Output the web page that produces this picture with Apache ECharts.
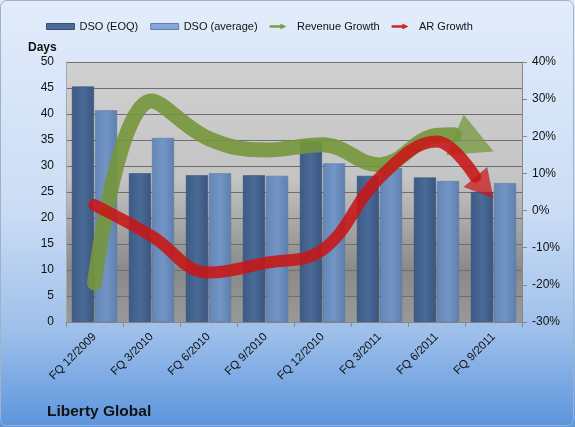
<!DOCTYPE html>
<html>
<head>
<meta charset="utf-8">
<script src="https://cdn.jsdelivr.net/npm/echarts@6/dist/echarts.min.js"></script>
<style>
  html, body { margin: 0; padding: 0; }
  #chart { width: 575px; height: 427px; }
</style>
</head>
<body>
<div id="chart"></div>
<script>
// quarters
var categories = ['FQ 12/2009', 'FQ 3/2010', 'FQ 6/2010', 'FQ 9/2010', 'FQ 12/2010', 'FQ 3/2011', 'FQ 6/2011', 'FQ 9/2011'];
var dsoEoq = [45.3, 28.6, 28.2, 28.2, 34.7, 28.1, 27.8, 25.0];
var dsoAvg = [40.7, 35.4, 28.6, 28.1, 30.5, 29.6, 27.1, 26.7];
var revenueGrowth = [-19.5, 29.5, 19.4, 16.3, 17.7, 12.3, 20.2, 15.9];
var arGrowth = [1.5, -6.8, -16.7, -14.1, -10.6, 8.8, 18.6, 3.3];
// where the shaft of each arrow stops (category index, %), the head runs on to the last point
var revenueArrowBase = [6.31, 20.4];
var arArrowBase = [6.68, 9.1];
var leftTicks = [0, 50, 5];
var rightTicks = [-30, 40, 10];

var fontFamily = '"Liberation Sans", Arial, sans-serif';
var triangle = 'path://M10,0 L20,30 L0,30 Z';
var arrowIcon = 'path://M0,3 L18,3 L18,0 L28,5 L18,10 L18,7 L0,7 Z';

// line points up to the arrow shaft end
function shaftData (values, base) {
  var pts = values.slice(0, values.length - 1).map(function (v, i) { return [i, v]; });
  pts.push(base);
  return pts;
}

// arrow head sitting with its tip on the last point
function headData (values, angle, len, width) {
  var rad = angle * Math.PI / 180;
  return [{
    value: [values.length - 1, values[values.length - 1]],
    symbol: triangle,
    symbolSize: [width, len],
    symbolRotate: -90 - angle,
    symbolOffset: [-Math.cos(rad) * len / 2, -Math.sin(rad) * len / 2]
  }];
}

var chart = echarts.init(document.getElementById('chart'));
var option = {
  backgroundColor: new echarts.graphic.LinearGradient(0, 0, 0, 1, [
    { offset: 0, color: '#e2ecfb' },
    { offset: 0.5, color: '#cadcf5' },
    { offset: 0.78, color: '#9dbfea' },
    { offset: 1, color: '#5b95dd' }
  ]),
  textStyle: { fontFamily: fontFamily },
  animation: false,
  graphic: [{
    type: 'rect',
    shape: { x: 0.5, y: 0.5, width: 573, height: 425, r: 6 },
    style: { fill: 'none', stroke: '#9fb2c8', lineWidth: 1 },
    silent: true
  }],
  legend: {
    top: 16,
    left: 41,
    itemGap: 12,
    itemWidth: 28,
    itemHeight: 6,
    textStyle: { fontSize: 11, color: '#111' },
    data: [
      { name: 'DSO (EOQ)', icon: 'rect', itemStyle: { color: '#4d6c98', borderColor: '#34507a', borderWidth: 1 } },
      { name: 'DSO (average)', icon: 'rect', itemStyle: { color: '#86a8d8', borderColor: '#5f80ae', borderWidth: 1 } },
      { name: 'Revenue Growth', icon: arrowIcon, itemStyle: { color: '#7d9a48', borderWidth: 0 } },
      { name: 'AR Growth', icon: arrowIcon, itemStyle: { color: '#c8282a', borderWidth: 0 } }
    ]
  },
  title: [
    { text: 'Days', left: 23, top: 37, textStyle: { fontSize: 12, fontWeight: 'bold', color: '#111', fontFamily: fontFamily } },
    { text: 'Liberty Global', left: 42, top: 399, textStyle: { fontSize: 15.5, fontWeight: 'bold', color: '#111', fontFamily: fontFamily } }
  ],
  grid: {
    left: 66,
    right: 53,
    top: 62,
    bottom: 105,
    show: true,
    borderWidth: 0,
    backgroundColor: new echarts.graphic.LinearGradient(0, 0, 0, 1, [
      { offset: 0, color: '#d0d0d0' },
      { offset: 0.45, color: '#c4c4c4' },
      { offset: 0.8, color: '#8a8a8a' },
      { offset: 1, color: '#999999' }
    ])
  },
  xAxis: [
    {
      type: 'category',
      data: categories,
      axisLine: { show: true, lineStyle: { color: '#888' } },
      axisTick: { show: true, length: 5, lineStyle: { color: '#888' } },
      axisLabel: { rotate: 45, fontSize: 11.5, color: '#111', margin: 13 }
    },
    {
      type: 'value',
      min: -0.5,
      max: categories.length - 0.5,
      show: false
    }
  ],
  yAxis: [
    {
      type: 'value',
      min: leftTicks[0],
      max: leftTicks[1],
      interval: leftTicks[2],
      axisLine: { show: true, onZero: false, lineStyle: { color: '#a8a8a8' } },
      axisTick: { show: false },
      axisLabel: { fontSize: 12, color: '#111', margin: 12 },
      splitLine: { show: true, lineStyle: { color: '#6f6f6f', width: 1 } }
    },
    {
      type: 'value',
      min: rightTicks[0],
      max: rightTicks[1],
      interval: rightTicks[2],
      axisLine: { show: true, onZero: false, lineStyle: { color: '#888' } },
      axisTick: { show: true, length: 5, lineStyle: { color: '#888' } },
      axisLabel: { fontSize: 12, color: '#111', margin: 10, formatter: '{value}%' },
      splitLine: { show: false }
    }
  ],
  series: [
    {
      name: 'DSO (EOQ)',
      type: 'bar',
      yAxisIndex: 0,
      barWidth: 22,
      barGap: '5%',
      data: dsoEoq,
      itemStyle: {
        borderColor: '#2f4a70',
        borderWidth: 0.5,
        color: new echarts.graphic.LinearGradient(0, 0, 1, 0, [
          { offset: 0, color: '#3c5a85' },
          { offset: 0.5, color: '#4a6a97' },
          { offset: 1, color: '#3a5680' }
        ])
      }
    },
    {
      name: 'DSO (average)',
      type: 'bar',
      yAxisIndex: 0,
      barWidth: 22,
      data: dsoAvg,
      itemStyle: {
        borderColor: '#55759f',
        borderWidth: 0.5,
        color: new echarts.graphic.LinearGradient(0, 0, 1, 0, [
          { offset: 0, color: '#6386b6' },
          { offset: 0.5, color: '#7295c6' },
          { offset: 1, color: '#5f80ae' }
        ])
      }
    },
    {
      name: 'Revenue Growth',
      type: 'line',
      xAxisIndex: 1,
      yAxisIndex: 1,
      smooth: 0.4,
      symbol: 'none',
      data: shaftData(revenueGrowth, revenueArrowBase),
      lineStyle: { color: 'rgba(118,150,60,0.9)', width: 15, cap: 'round' },
      itemStyle: { color: 'rgba(118,150,60,0.9)' },
      z: 3
    },
    {
      name: 'Revenue Growth head',
      type: 'scatter',
      xAxisIndex: 1,
      yAxisIndex: 1,
      data: headData(revenueGrowth, 23.5, 42, 44),
      itemStyle: { color: 'rgba(118,150,60,0.92)' },
      z: 3
    },
    {
      name: 'AR Growth',
      type: 'line',
      xAxisIndex: 1,
      yAxisIndex: 1,
      smooth: 0.4,
      symbol: 'none',
      data: shaftData(arGrowth, arArrowBase),
      lineStyle: { color: 'rgba(200,22,22,0.88)', width: 12, cap: 'round' },
      itemStyle: { color: 'rgba(200,22,22,0.88)' },
      z: 4
    },
    {
      name: 'AR Growth head',
      type: 'scatter',
      xAxisIndex: 1,
      yAxisIndex: 1,
      data: headData(arGrowth, 49.7, 28, 31),
      itemStyle: { color: 'rgba(200,22,22,0.9)' },
      z: 4
    }
  ]
};
chart.setOption(option);
</script>
</body>
</html>
